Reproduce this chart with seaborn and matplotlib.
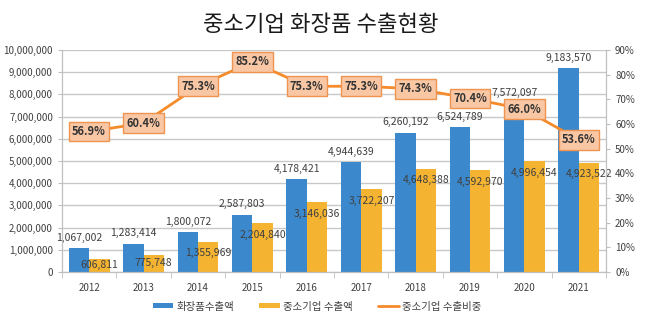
import numpy as np
import pandas as pd
import matplotlib
matplotlib.use("Agg")
import matplotlib.pyplot as plt
import seaborn as sns
from matplotlib.patches import Patch
from matplotlib.lines import Line2D
from matplotlib.ticker import FuncFormatter, MultipleLocator

years = ["2012", "2013", "2014", "2015", "2016", "2017", "2018", "2019", "2020", "2021"]
total_exports = [1067002, 1283414, 1800072, 2587803, 4178421, 4944639, 6260192, 6524789, 7572097, 9183570]
sme_exports = [606811, 775748, 1355969, 2204840, 3146036, 3722207, 4648388, 4592970, 4996454, 4923522]
sme_share = [56.9, 60.4, 75.3, 85.2, 75.3, 75.3, 74.3, 70.4, 66.0, 53.6]
series_names = ["화장품수출액", "중소기업 수출액", "중소기업 수출비중"]
title = "중소기업 화장품 수출현황"

BLUE = "#3b88cc"
GOLD = "#f4b331"
ORANGE = "#f58b2a"
BOX_FILL = "#f9c7a4"
BOX_EDGE = "#ee9350"
TXT = "#404040"

sns.set_style("white")
plt.rcParams["font.family"] = ["Noto Sans CJK KR", "DejaVu Sans"]

df = pd.DataFrame({
    "year": years * 2,
    "value": total_exports + sme_exports,
    "series": [series_names[0]] * len(years) + [series_names[1]] * len(years),
})

fig = plt.figure(figsize=(6.47, 3.21), dpi=100)
ax = fig.add_axes([0.0958, 0.1526, 0.8408, 0.6916])

sns.barplot(data=df, x="year", y="value", hue="series", ax=ax,
            palette=[BLUE, GOLD], width=0.75, legend=False, saturation=1,
            linewidth=0, edgecolor="none")

ax.set_ylim(0, 10000000)
ax.yaxis.set_major_locator(MultipleLocator(1000000))
ax.yaxis.set_major_formatter(FuncFormatter(lambda v, p: f"{int(v):,}"))
ax.set_xlabel("")
ax.set_ylabel("")
ax.grid(axis="y", color="#c8c8c8", linewidth=1)
ax.set_axisbelow(True)
ax.spines["top"].set_visible(False)
for s in ["left", "right", "bottom"]:
    ax.spines[s].set_color("#bfbfbf")
ax.tick_params(axis="y", labelsize=7, colors=TXT, length=3, color="#bfbfbf", left=True)
ax.tick_params(axis="x", labelsize=7, colors=TXT, length=0, pad=8)
ax.set_xlim(-0.5, len(years) - 0.5)
ax.set_xticks(np.arange(len(years) + 1) - 0.5, minor=True)
ax.tick_params(axis="x", which="minor", length=4, color="#bfbfbf", bottom=True)

bar_w = 0.75 / 2
for i, (t, s) in enumerate(zip(total_exports, sme_exports)):
    ax.text(i - bar_w / 2, t + 250000, f"{t:,}", ha="center", va="bottom",
            fontsize=7.5, color=TXT)
    sy = s - 520000 if s > 1000000 else s / 2
    ax.text(i + bar_w / 2, sy, f"{s:,}", ha="center", va="center",
            fontsize=7.5, color=TXT)

ax2 = ax.twinx()
ax2.set_position(ax.get_position())
sns.lineplot(x=np.arange(len(years)), y=sme_share, ax=ax2, color=ORANGE,
             linewidth=2, legend=False)
ax2.set_ylim(0, 90)
ax2.yaxis.set_major_locator(MultipleLocator(10))
ax2.yaxis.set_major_formatter(FuncFormatter(lambda v, p: f"{int(v)}%"))
ax2.tick_params(axis="y", labelsize=7, colors=TXT, length=3, color="#bfbfbf")
ax2.spines["top"].set_visible(False)
for s in ["left", "right", "bottom"]:
    ax2.spines[s].set_color("#bfbfbf")
ax2.set_ylabel("")
for i, p in enumerate(sme_share):
    ax2.text(i, p, f"{p:.1f}%", ha="center", va="center", fontsize=8,
             fontweight="bold", color="#333333",
             bbox=dict(boxstyle="square,pad=0.3", fc=BOX_FILL, ec=BOX_EDGE, lw=1))

fig.text(0.495, 0.925, title, ha="center", va="center", fontsize=16,
         fontweight="medium", color="#1a1a1a")

handles = [Patch(facecolor=BLUE, edgecolor="none"),
           Patch(facecolor=GOLD, edgecolor="none"),
           Line2D([0], [0], color=ORANGE, lw=2)]
fig.legend(handles, series_names, loc="center", bbox_to_anchor=(0.49, 0.045), ncol=3,
           frameon=False, fontsize=7.5, handlelength=2.0, handleheight=0.4,
           columnspacing=2.4, handletextpad=0.3, labelcolor=TXT)

fig.savefig("out.png", dpi=100)
